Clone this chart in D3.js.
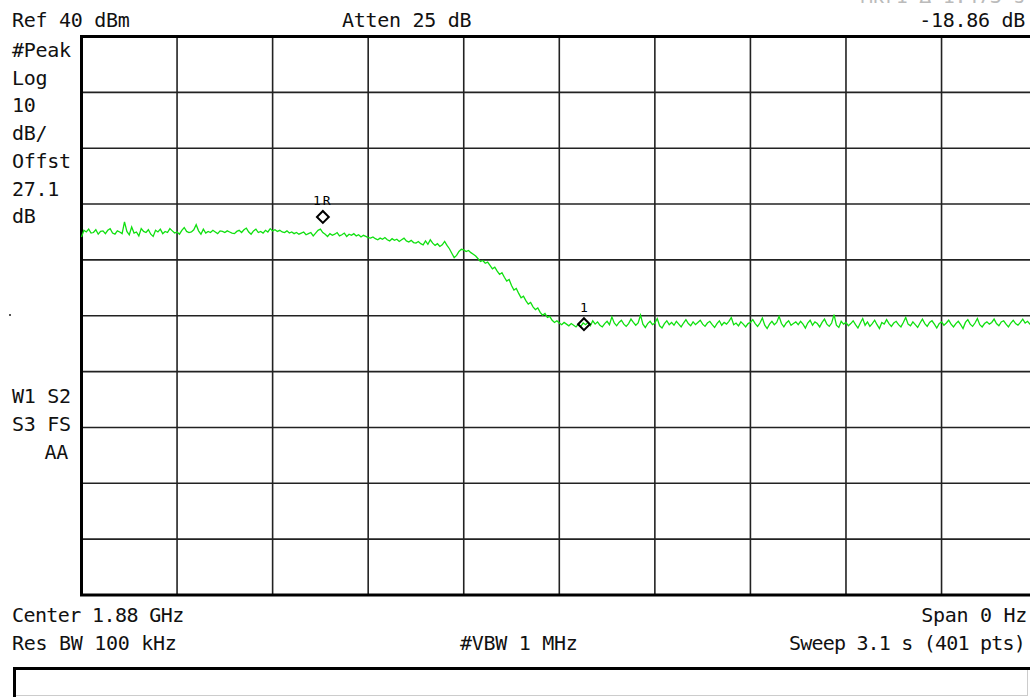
<!DOCTYPE html>
<html>
<head>
<meta charset="utf-8">
<script src="https://cdn.jsdelivr.net/npm/d3@7"></script>
<style>
  html, body { margin: 0; padding: 0; background: #fff; overflow: hidden; }
  svg text { font-family: "DejaVu Sans Mono", "Liberation Mono", monospace; fill: #111; }
</style>
</head>
<body>
<div id="chart"></div>
<script>
// screen annotations
var headerLeft = "Ref 40 dBm";
var headerMid = "Atten 25 dB";
var headerRight = "-18.86 dB";
var headerHidden = "Mkr1 \u0394 1.473 s";
var sideTop = ["#Peak", "Log", "10", "dB/", "Offst", "27.1", "dB"];
var sideMid = ["W1 S2", "S3 FS", "AA"];
var footLeft = ["Center 1.88 GHz", "Res BW 100 kHz"];
var footMid = "#VBW 1 MHz";
var footRight = ["Span 0 Hz", "Sweep 3.1 s (401 pts)"];

// grid divisions (dBm and seconds)
var yTicks = [40, 30, 20, 10, 0, -10, -20, -30, -40, -50, -60];
var xTicks = [0, 0.31, 0.62, 0.93, 1.24, 1.55, 1.86, 2.17, 2.48, 2.79, 3.1];
var sweepTime = 3.1;

// trace, 401 pts, dBm
var trace = [
  4.1,5.3,5.0,5.5,4.8,4.9,5.4,4.6,5.1,5.2,4.7,5.3,5.6,4.8,4.6,5.2,5.0,4.7,6.8,5.1,
  4.5,5.9,4.8,5.0,4.3,5.6,5.1,4.9,5.4,4.6,4.2,5.3,5.0,5.5,4.7,5.1,4.9,5.6,5.2,4.8,
  5.0,4.6,5.3,5.8,5.1,4.9,5.0,5.4,6.3,5.2,4.6,5.5,4.8,5.1,4.9,5.3,5.0,4.7,5.2,5.1,
  4.9,5.2,5.0,4.8,4.7,5.1,5.3,4.9,5.4,5.7,5.0,4.6,5.2,5.5,4.9,5.1,4.8,5.3,5.0,5.6,
  5.2,5.4,5.1,5.3,5.0,4.9,5.2,4.8,5.0,4.7,4.9,4.6,4.8,5.0,4.5,4.7,4.9,4.3,4.8,5.3,
  5.5,4.9,4.6,4.2,4.7,4.4,4.6,4.9,4.3,4.5,4.8,4.2,4.6,4.4,4.7,4.3,4.5,4.1,4.4,4.2,
  4.0,3.9,4.1,3.8,3.6,3.9,3.7,4.0,3.6,3.4,3.8,3.5,3.7,3.3,3.6,3.9,3.4,3.2,3.5,3.1,
  3.0,3.3,2.9,2.7,3.4,2.8,3.6,3.0,2.6,2.9,2.4,2.7,3.3,2.6,2.0,1.2,0.4,0.8,1.5,1.9,
  1.8,1.5,1.7,1.3,1.0,0.7,0.2,-0.3,-0.1,-0.6,-0.4,-1.0,-1.6,-1.3,-2.0,-2.6,-2.3,-3.1,-3.8,-3.5,
  -4.6,-5.4,-5.1,-6.0,-6.8,-6.5,-7.3,-7.9,-7.6,-8.4,-8.9,-8.6,-9.4,-9.9,-9.6,-10.3,-10.1,-10.8,-11.2,-10.9,
  -11.3,-11.6,-11.2,-11.5,-11.8,-11.4,-11.7,-12.0,-11.5,-11.9,-11.3,-11.6,-11.2,-11.8,-10.9,-11.5,-11.1,-11.7,-12.0,-11.4,
  -11.0,-11.6,-10.2,-11.3,-11.8,-11.2,-10.8,-11.5,-11.9,-11.4,-10.6,-11.2,-11.7,-11.3,-9.9,-11.5,-12.1,-11.4,-11.0,-11.6,
  -11.3,-10.5,-11.8,-12.2,-11.4,-10.9,-11.6,-11.2,-11.7,-11.0,-11.5,-12.0,-11.3,-10.7,-11.4,-11.8,-11.1,-11.6,-11.2,-10.8,
  -11.5,-11.9,-11.3,-11.0,-11.6,-12.1,-11.4,-10.9,-11.7,-11.2,-11.5,-11.0,-10.3,-11.6,-11.3,-11.8,-11.1,-11.5,-12.0,-11.4,
  -11.2,-10.7,-11.4,-11.9,-11.3,-10.4,-11.7,-12.3,-11.5,-11.0,-11.6,-11.2,-10.1,-11.4,-12.0,-11.3,-10.9,-11.7,-11.4,-11.1,
  -11.6,-11.0,-11.5,-12.2,-11.3,-10.8,-11.7,-11.1,-11.4,-12.0,-11.2,-10.6,-11.5,-11.9,-11.3,-9.8,-11.7,-12.1,-11.0,-11.5,
  -11.2,-11.8,-11.4,-10.9,-11.6,-12.2,-11.3,-10.5,-11.7,-11.1,-11.9,-11.4,-10.8,-11.6,-12.3,-11.2,-11.5,-10.7,-11.4,-11.9,
  -11.3,-11.0,-11.6,-12.0,-11.2,-10.3,-11.5,-11.8,-11.1,-11.6,-12.1,-11.3,-10.6,-11.4,-11.9,-11.2,-10.9,-11.5,-12.2,-11.4,
  -11.1,-11.7,-11.3,-10.8,-11.5,-12.0,-11.4,-11.0,-11.6,-12.3,-11.2,-10.7,-11.5,-11.9,-11.3,-10.5,-11.6,-12.0,-11.4,-11.1,
  -11.5,-11.2,-10.6,-11.4,-11.8,-11.1,-10.9,-11.5,-12.0,-11.3,-10.8,-11.4,-11.7,-11.2,-10.6,-11.3,-11.0,-11.5,-11.2,-10.9,
  -11.0
];

// markers: label, time (s), level (dBm)
var markerLabels = ["1R", "1"];
var markerTimes = [0.783, 1.630];
var markerLevels = [7.7, -11.5];

var width = 1030, height = 698;

var svg = d3.select("#chart").append("svg")
    .attr("width", width)
    .attr("height", height);

var x = d3.scaleLinear().domain([0, sweepTime]).range([81.5, 1037.1]);
var y = d3.scaleLinear().domain([-60, 40]).range([595, 36.5]);

// grid
var grid = svg.append("g");
grid.selectAll(".vline")
  .data(xTicks)
  .enter().append("line")
    .attr("x1", function (d) { return x(d); })
    .attr("x2", function (d) { return x(d); })
    .attr("y1", y(40))
    .attr("y2", y(-60))
    .attr("stroke", "#222")
    .attr("stroke-width", 1.6);
grid.selectAll(".hline")
  .data(yTicks)
  .enter().append("line")
    .attr("x1", x(0))
    .attr("x2", x(sweepTime))
    .attr("y1", function (d) { return y(d); })
    .attr("y2", function (d) { return y(d); })
    .attr("stroke", "#222")
    .attr("stroke-width", 1.6);

// frame
svg.append("rect")
    .attr("x", x(0))
    .attr("y", y(40))
    .attr("width", x(sweepTime) - x(0))
    .attr("height", y(-60) - y(40))
    .attr("fill", "none")
    .attr("stroke", "#000")
    .attr("stroke-width", 3);

// trace
var line = d3.line()
    .x(function (d, i) { return x(i * sweepTime / (trace.length - 1)); })
    .y(function (d) { return y(d); });

svg.append("path")
    .datum(trace)
    .attr("d", line)
    .attr("fill", "none")
    .attr("stroke", "#10e010")
    .attr("stroke-width", 1.3);

// markers
var diamond = d3.symbol().type(d3.symbolSquare).size(70);
markerLabels.forEach(function (lab, i) {
    var mx = x(markerTimes[i]), my = y(markerLevels[i]);
    svg.append("path")
        .attr("d", diamond)
        .attr("transform", "translate(" + mx + "," + my + ") rotate(45)")
        .attr("fill", "none")
        .attr("stroke", "#000")
        .attr("stroke-width", 2);
    svg.append("text")
        .attr("x", mx)
        .attr("y", my - 12)
        .attr("text-anchor", "middle")
        .style("font-size", "13px")
        .style("fill", "#000")
        .style("letter-spacing", lab.length > 1 ? "2px" : "0px")
        .text(lab);
});

// texts
function txt(str, tx, ty, anchor, col, ls) {
    return svg.append("text")
        .attr("x", tx)
        .attr("y", ty)
        .attr("text-anchor", anchor || "start")
        .style("font-size", "20px")
        .style("letter-spacing", ls || "-0.3px")
        .style("fill", col || "#111")
        .text(str);
}

txt(headerHidden, 1025, 3, "end", "#bbb");
txt(headerLeft, 12, 27);
txt(headerMid, 342, 27);
txt(headerRight, 1025, 27, "end");

sideTop.forEach(function (s, i) {
    txt(s, 12, 57 + i * 27.7);
});
txt(sideMid[0], 12, 403);
txt(sideMid[1], 12, 431);
txt(sideMid[2], 68, 459, "end");
svg.append("rect").attr("x", 9).attr("y", 314).attr("width", 2).attr("height", 2).attr("fill", "#555");

txt(footLeft[0], 12, 622, "start", null, "-0.6px");
txt(footLeft[1], 12, 650);
txt(footRight[0], 1027, 622, "end");
txt(footMid, 460, 650);
txt(footRight[1], 1025, 650, "end", null, "-0.8px");

// empty status box at the bottom
svg.append("rect")
    .attr("x", 14.5)
    .attr("y", 668.5)
    .attr("width", 1013)
    .attr("height", 27)
    .attr("fill", "none")
    .attr("stroke", "#ccc")
    .attr("stroke-width", 1);
svg.append("path")
    .attr("d", "M14.5,697 V668.5 H1030")
    .attr("fill", "none")
    .attr("stroke", "#000")
    .attr("stroke-width", 3);
</script>
</body>
</html>
